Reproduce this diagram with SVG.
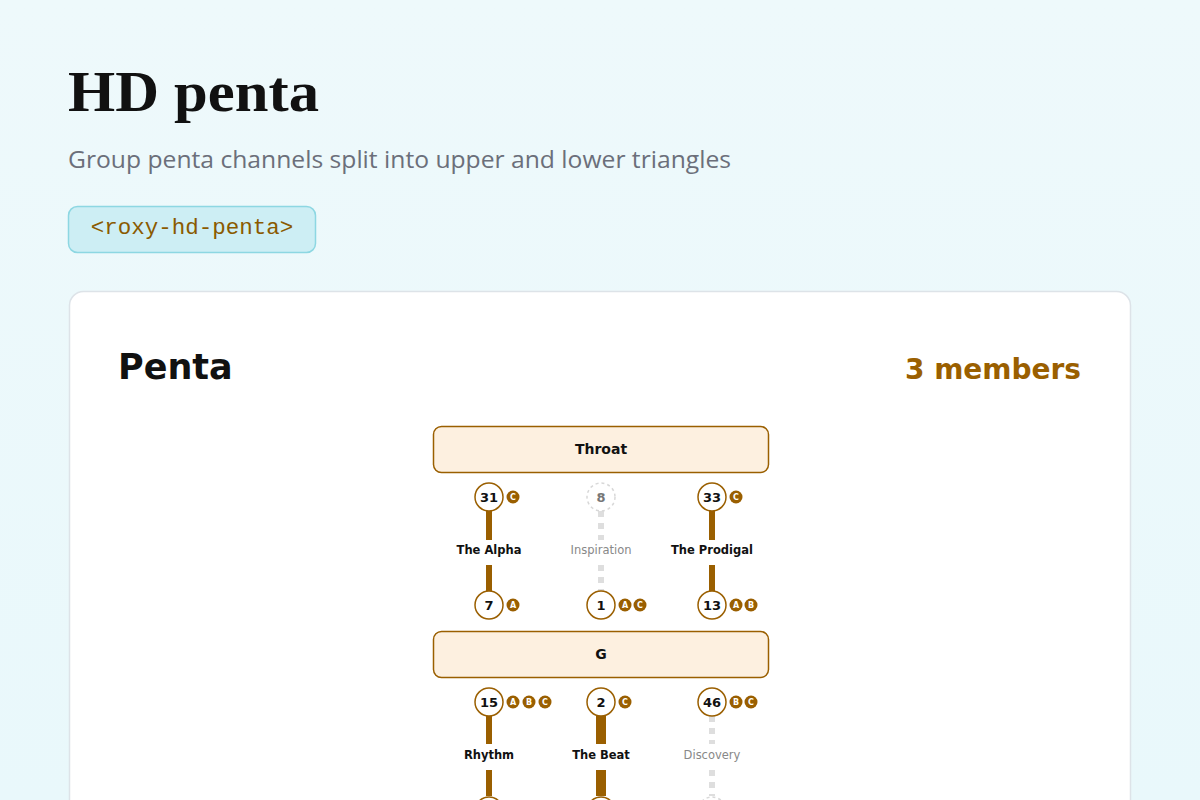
<svg xmlns="http://www.w3.org/2000/svg" width="1200" height="800" viewBox="0 0 1200 800">
<defs>
<linearGradient id="bg" x1="0" y1="0" x2="0" y2="1"><stop offset="0" stop-color="#eef9fb"/><stop offset="1" stop-color="#e9f8fb"/></linearGradient>
</defs>
<style>
.gate{fill:#fff;stroke:#9a5f00;stroke-width:1.5}
.gate.off{stroke:#d8d8d8;stroke-dasharray:3,3}
.num{font-family:"DejaVu Sans",sans-serif;font-size:13px;font-weight:bold;fill:#111;text-anchor:middle}
.num.off{fill:#777}
.bd{fill:#9a5f00}
.bt{font-family:"DejaVu Sans",sans-serif;font-size:8px;font-weight:bold;fill:#fff;text-anchor:middle}
.lbl{font-family:"DejaVu Sans",sans-serif;font-size:11.5px;font-weight:bold;fill:#111;text-anchor:middle}
.lbl.off{font-weight:normal;fill:#888}
.ch{stroke:#9a5f00;stroke-width:6}
.ch.thick{stroke-width:10}
.ch.off{stroke:#dedede;stroke-dasharray:6,6}
.center{fill:#fdf0e0;stroke:#9a5f00;stroke-width:1.5}
.ctext{font-family:"DejaVu Sans",sans-serif;font-size:14px;font-weight:bold;fill:#111;text-anchor:middle}
</style>
<rect width="1200" height="800" fill="url(#bg)"/>
<text x="68" y="111" font-family="Liberation Serif,serif" font-size="56" font-weight="bold" fill="#111" textLength="251" lengthAdjust="spacingAndGlyphs">HD penta</text>
<text x="68" y="168" font-family="Open Sans,sans-serif" font-size="24" fill="#6b6f7a" textLength="663" lengthAdjust="spacingAndGlyphs">Group penta channels split into upper and lower triangles</text>
<rect x="68.5" y="206.5" width="247" height="46" rx="9" fill="#cdeef4" stroke="#8dd7e2" stroke-width="1.5"/>
<text x="192" y="234" font-family="Liberation Mono,monospace" font-size="22.5" fill="#8a5a00" text-anchor="middle">&lt;roxy-hd-penta&gt;</text>
<rect x="69.5" y="291.5" width="1061" height="540" rx="14" fill="#fff" stroke="#dde3e8" stroke-width="1.5"/>
<text x="118" y="379" font-family="DejaVu Sans,sans-serif" font-size="35" font-weight="bold" fill="#111">Penta</text>
<text x="1081" y="379" font-family="DejaVu Sans,sans-serif" font-size="28" font-weight="bold" fill="#9a5f00" text-anchor="end">3 members</text>

<g id="connectors">
<line class="ch" x1="489" y1="511" x2="489" y2="540"/><line class="ch" x1="489" y1="565" x2="489" y2="591"/>
<line class="ch off" x1="601" y1="511" x2="601" y2="540"/><line class="ch off" x1="601" y1="565" x2="601" y2="591"/>
<line class="ch" x1="712" y1="511" x2="712" y2="540"/><line class="ch" x1="712" y1="565" x2="712" y2="591"/>
<line class="ch" x1="489" y1="716" x2="489" y2="744"/><line class="ch" x1="489" y1="770" x2="489" y2="796"/>
<line class="ch thick" x1="601" y1="716" x2="601" y2="744"/><line class="ch thick" x1="601" y1="770" x2="601" y2="796"/>
<line class="ch off" x1="712" y1="716" x2="712" y2="744"/><line class="ch off" x1="712" y1="770" x2="712" y2="796"/>
</g>
<g id="labels">
<text class="lbl" x="489" y="554">The Alpha</text>
<text class="lbl off" x="601" y="554">Inspiration</text>
<text class="lbl" x="712" y="554">The Prodigal</text>
<text class="lbl" x="489" y="759">Rhythm</text>
<text class="lbl" x="601" y="759">The Beat</text>
<text class="lbl off" x="712" y="759">Discovery</text>
</g>
<g id="throat"><rect class="center" x="433.5" y="426.5" width="335" height="46" rx="8"/><text class="ctext" x="601" y="454">Throat</text></g>
<g id="g-center"><rect class="center" x="433.5" y="631.5" width="335" height="46" rx="8"/><text class="ctext" x="601" y="659">G</text></g>

<g id="gate31"><circle class="gate" cx="489" cy="497" r="14"/><text class="num" x="489" y="502">31</text><circle class="bd" cx="513" cy="497" r="6.5"/><text class="bt" x="513" y="500">C</text></g>
<g id="gate8"><circle class="gate off" cx="601" cy="497" r="14"/><text class="num off" x="601" y="502">8</text></g>
<g id="gate33"><circle class="gate" cx="712" cy="497" r="14"/><text class="num" x="712" y="502">33</text><circle class="bd" cx="736" cy="497" r="6.5"/><text class="bt" x="736" y="500">C</text></g>
<g id="gate7"><circle class="gate" cx="489" cy="605" r="14"/><text class="num" x="489" y="610">7</text><circle class="bd" cx="513" cy="605" r="6.5"/><text class="bt" x="513" y="608">A</text></g>
<g id="gate1"><circle class="gate" cx="601" cy="605" r="14"/><text class="num" x="601" y="610">1</text><circle class="bd" cx="625" cy="605" r="6.5"/><text class="bt" x="625" y="608">A</text><circle class="bd" cx="640" cy="605" r="6.5"/><text class="bt" x="640" y="608">C</text></g>
<g id="gate13"><circle class="gate" cx="712" cy="605" r="14"/><text class="num" x="712" y="610">13</text><circle class="bd" cx="736" cy="605" r="6.5"/><text class="bt" x="736" y="608">A</text><circle class="bd" cx="751" cy="605" r="6.5"/><text class="bt" x="751" y="608">B</text></g>
<g id="gate15"><circle class="gate" cx="489" cy="702" r="14"/><text class="num" x="489" y="707">15</text><circle class="bd" cx="513" cy="702" r="6.5"/><text class="bt" x="513" y="705">A</text><circle class="bd" cx="529" cy="702" r="6.5"/><text class="bt" x="529" y="705">B</text><circle class="bd" cx="545" cy="702" r="6.5"/><text class="bt" x="545" y="705">C</text></g>
<g id="gate2"><circle class="gate" cx="601" cy="702" r="14"/><text class="num" x="601" y="707">2</text><circle class="bd" cx="625" cy="702" r="6.5"/><text class="bt" x="625" y="705">C</text></g>
<g id="gate46"><circle class="gate" cx="712" cy="702" r="14"/><text class="num" x="712" y="707">46</text><circle class="bd" cx="736" cy="702" r="6.5"/><text class="bt" x="736" y="705">B</text><circle class="bd" cx="751" cy="702" r="6.5"/><text class="bt" x="751" y="705">C</text></g>
<g id="gate-b1"><circle class="gate" cx="489" cy="811" r="14"/></g>
<g id="gate-b2"><circle class="gate" cx="601" cy="811" r="14"/></g>
<g id="gate-b3"><circle class="gate off" cx="712" cy="811" r="14"/></g>
</svg>
